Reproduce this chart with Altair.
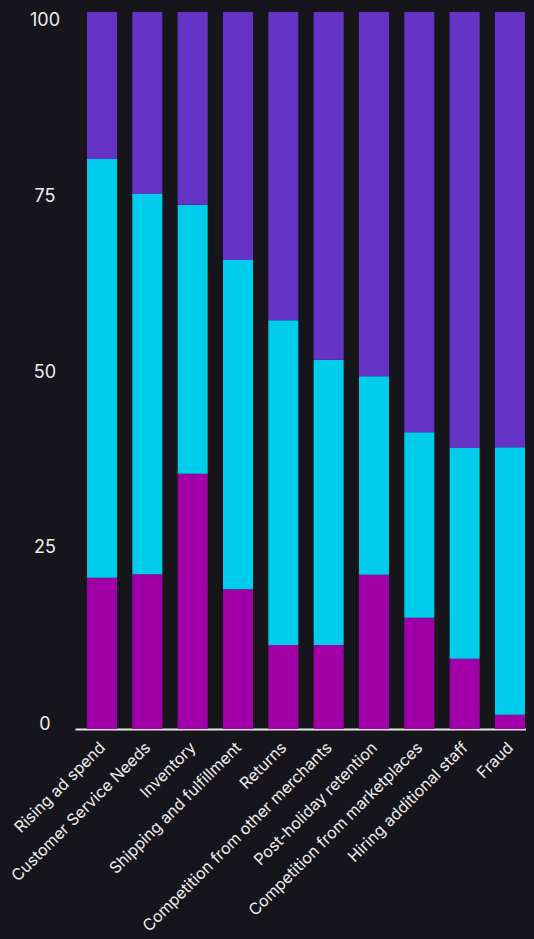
import altair as alt
import pandas as pd
import jinja2

categories = [
    "Rising ad spend",
    "Customer Service Needs",
    "Inventory",
    "Shipping and fulfillment",
    "Returns",
    "Competition from other merchants",
    "Post-holiday retention",
    "Competition from marketplaces",
    "Hiring additional staff",
    "Fraud",
]
series = ["Segment 1", "Segment 2", "Segment 3"]  # bottom → top
bottom_values = [21.1, 21.6, 35.6, 19.5, 11.7, 11.7, 21.5, 15.5, 9.8, 2.0]
middle_values = [58.4, 53.0, 37.5, 45.9, 45.3, 39.8, 27.7, 25.9, 29.4, 37.3]
top_values = [20.5, 25.4, 26.9, 34.6, 43.0, 48.5, 50.8, 58.6, 60.8, 60.7]
colors = ["#A100A8", "#00CDEB", "#6633C7"]
y_ticks = [0, 25, 50, 75, 100]
page_bg = "#16151B"

rows = []
for s_idx, (name, vals) in enumerate(zip(series, [bottom_values, middle_values, top_values])):
    for cat, v in zip(categories, vals):
        rows.append({"category": cat, "series": name, "value": v, "order": s_idx})
df = pd.DataFrame(rows)

y_label_offset = {
    "condition": [
        {"test": "datum.value == 0", "value": -5},
        {"test": "datum.value == 25", "value": -2},
        {"test": "datum.value == 50", "value": 2},
        {"test": "datum.value == 75", "value": 5.5},
    ],
    "value": 8.5,
}

chart = (
    alt.Chart(df)
    .mark_bar()
    .encode(
        x=alt.X(
            "category:N",
            sort=categories,
            scale=alt.Scale(paddingInner=0.338, paddingOuter=0.232, align=0.571),
            axis=alt.Axis(
                title=None,
                labelAngle=-45,
                labelFontSize=16,
                labelLimit=500,
                labelPadding=10,
                labelOffset=-5,
                ticks=False,
                domain=True,
                domainColor="#E6E6E6",
                domainWidth=2,
            ),
        ),
        y=alt.Y(
            "value:Q",
            stack="zero",
            scale=alt.Scale(domain=[0, 100], nice=False),
            axis=alt.Axis(
                title=None,
                values=y_ticks,
                labelFontSize=18,
                labelAlign="center",
                labelBaseline="middle",
                labelPadding=30.5,
                labelFlush=False,
                labelOffset=y_label_offset,
                ticks=False,
                domain=False,
                grid=False,
            ),
        ),
        color=alt.Color(
            "series:N",
            scale=alt.Scale(domain=series, range=colors),
            legend=None,
        ),
        order=alt.Order("order:Q"),
    )
    .properties(
        width=459,
        height=717,
        padding={"left": 67, "top": 4, "right": 0, "bottom": 210},
        autosize=alt.AutoSizeParams(type="none"),
        background=page_bg,
    )
    .configure_view(stroke=None)
    .configure_axis(
        grid=False,
        labelFont="Inter",
        labelColor="#EDEDED",
    )
)

embed = {"renderer": "svg", "actions": False}
# dark page background and no flex shrinking of the svg
html = chart.to_html(embed_options=embed)
style = (
    "<style>html, body { background: %s; } "
    ".vega-embed > svg { flex: none; }</style>" % page_bg
)
if "<head>" in html:
    html = html.replace("<head>", "<head>\n" + style, 1)
else:
    html = style + html
template = jinja2.Template("{% raw %}" + html + "{% endraw %}")

chart.save("out.html", embed_options=embed, template=template)
